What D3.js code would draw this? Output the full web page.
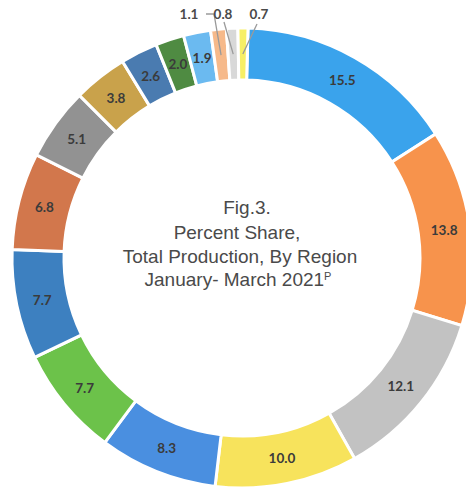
<!DOCTYPE html>
<html><head><meta charset="utf-8">
<script src="https://cdn.jsdelivr.net/npm/d3@7"></script>
<style>html,body{margin:0;padding:0;background:#fff;}svg{display:block;}</style>
</head><body>
<svg id="c" width="466" height="488"></svg>
<script>
const values = [15.5, 13.8, 12.1, 10.0, 8.3, 7.7, 7.7, 6.8, 5.1, 3.8, 2.6, 2.0, 1.9, 1.1, 0.8, 0.7];
const labels = ["15.5","13.8","12.1","10.0","8.3","7.7","7.7","6.8","5.1","3.8","2.6","2.0","1.9","1.1","0.8","0.7"];
const colors = ["#3aa3ec","#f7934c","#c2c2c2","#f7e35c","#4a8fe0","#6cc24a","#3d80c0","#d2774c","#929292","#c9a24b","#4a7bb0","#4f8b42","#6bbaf0","#f6b98a","#d8d8d8","#f7ef66"];
const titleLines = ["Fig.3.", "Percent Share,", "Total Production, By Region", "January- March 2021"];

const svg = d3.select("#c");
const cx = 242, cy = 258, R = 230, r = 178;
const off = 1.5 * Math.PI / 180;
const g = svg.append("g").attr("transform", `translate(${cx},${cy})`);
const pie = d3.pie().sort(null).value(d => d).startAngle(off).endAngle(off + 2 * Math.PI);
const arcs = pie(values);
const arc = d3.arc().innerRadius(r).outerRadius(R);
const labelArc = d3.arc().innerRadius(204).outerRadius(204);

g.selectAll("path.seg").data(arcs).enter().append("path")
  .attr("class", "seg")
  .attr("d", arc)
  .attr("fill", (d, i) => colors[i])
  .attr("stroke", "#fff").attr("stroke-width", 3);

const insideIdx = values.map((v, i) => i).filter(i => values[i] >= 1.5);
g.selectAll("text.in").data(insideIdx).enter().append("text")
  .attr("class", "in")
  .attr("transform", i => { const c = labelArc.centroid(arcs[i]); return `translate(${c[0]},${c[1]})`; })
  .attr("text-anchor", "middle").attr("dominant-baseline", "central")
  .attr("font-family", "Lato, 'Liberation Sans', sans-serif").attr("font-weight", "bold")
  .attr("font-size", 13.5).attr("fill", "#3b3b3b")
  .text(i => labels[i]);

const outside = [
  { i: 13, lx: -53, ly: -239, stub: [[-36, -244], [-28, -244]] },
  { i: 14, lx: -19, ly: -239, stub: [[-18, -236]] },
  { i: 15, lx: 17, ly: -239, stub: [[15, -234]] }
];
outside.forEach(o => {
  const c = labelArc.centroid(arcs[o.i]);
  const pts = o.stub.concat([c]);
  g.append("path").attr("d", d3.line()(pts)).attr("fill", "none")
    .attr("stroke", "#9a9a9a").attr("stroke-width", 1.3);
  g.append("text").attr("x", o.lx).attr("y", o.ly)
    .attr("text-anchor", "middle")
    .attr("font-family", "Lato, 'Liberation Sans', sans-serif").attr("font-weight", "bold")
    .attr("font-size", 13.5).attr("fill", "#4a4a4a")
    .text(labels[o.i]);
});

const tg = svg.append("g").attr("font-family", "'Liberation Sans', Arial, sans-serif")
  .attr("font-size", 19).attr("fill", "#4a4a4a").attr("text-anchor", "middle");
const ty = [214, 239, 263, 286];
const tx = [247, 237, 240, 238];
titleLines.forEach((t, k) => {
  const te = tg.append("text").attr("x", tx[k]).attr("y", ty[k]).text(t);
  if (k === 3) te.append("tspan").attr("font-size", 11).attr("dy", -6).text("P");
});
</script>
</body></html>
